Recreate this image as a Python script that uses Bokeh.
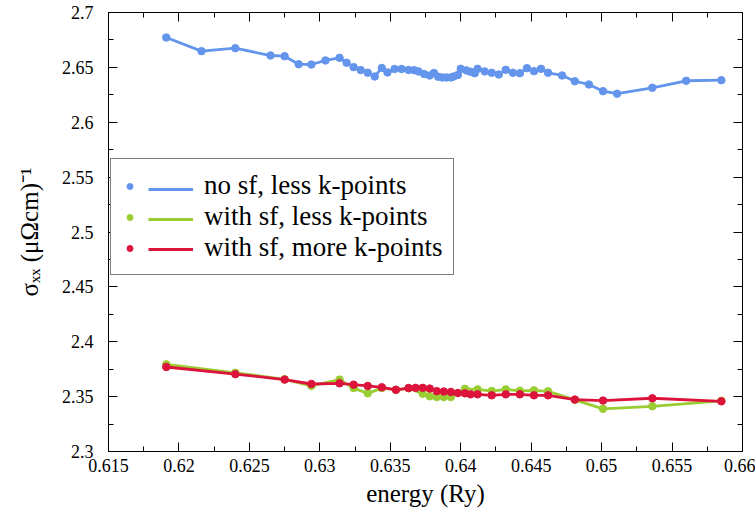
from bokeh.plotting import figure
from bokeh.models import (Range1d, FixedTicker, LinearAxis, Legend, LegendItem)
from bokeh.embed import file_html
from bokeh.resources import INLINE
from bokeh.core.properties import value

# ---- data ----
blue_x = [0.6191, 0.6216, 0.6240, 0.6265, 0.6275, 0.6285, 0.6294, 0.6304, 0.6314, 0.6319,
          0.6324, 0.6329, 0.6334, 0.6339, 0.6344, 0.6348, 0.6353, 0.6358, 0.6363, 0.6367,
          0.6370, 0.6374, 0.6378, 0.6381, 0.6384, 0.6387, 0.6390, 0.6393, 0.6395, 0.6398,
          0.6400, 0.6404, 0.6407, 0.6410, 0.6412, 0.6417, 0.6422, 0.6427, 0.6432, 0.6437,
          0.6442, 0.6447, 0.6452, 0.6457, 0.6462, 0.6472, 0.6481, 0.6491, 0.6501, 0.6511,
          0.6536, 0.6560, 0.6585]
blue_y = [2.6772, 2.6648, 2.6675, 2.6608, 2.6602, 2.6529, 2.6526, 2.6563, 2.6587, 2.6542,
          2.6502, 2.6475, 2.6451, 2.6417, 2.6495, 2.6454, 2.6485, 2.6485, 2.6476, 2.6474,
          2.6463, 2.6440, 2.6426, 2.6449, 2.6415, 2.6408, 2.6408, 2.6408, 2.6417, 2.6431,
          2.6487, 2.6472, 2.6460, 2.6447, 2.6487, 2.6463, 2.6451, 2.6435, 2.6478, 2.6451,
          2.6447, 2.6493, 2.6465, 2.6487, 2.6451, 2.6426, 2.6374, 2.6344, 2.6283, 2.6260,
          2.6314, 2.6378, 2.6383]

green_x = [0.6191, 0.6240, 0.6275, 0.6294, 0.6314, 0.6324, 0.6334, 0.6344, 0.6354, 0.6363,
           0.6373, 0.6378, 0.6383, 0.6388, 0.6393, 0.6403, 0.6412, 0.6422, 0.6432, 0.6442,
           0.6452, 0.6462, 0.6481, 0.6501, 0.6536, 0.6585]
green_y = [2.3794, 2.3717, 2.3658, 2.3598, 2.3655, 2.3578, 2.3530, 2.3578, 2.3562, 2.3576,
           2.3527, 2.3503, 2.3496, 2.3496, 2.3496, 2.3571, 2.3566, 2.3551, 2.3566, 2.3553,
           2.3557, 2.3548, 2.3471, 2.3389, 2.3412, 2.3462]

red_x = [0.6191, 0.6240, 0.6275, 0.6294, 0.6314, 0.6324, 0.6334, 0.6344, 0.6354, 0.6363,
         0.6368, 0.6373, 0.6378, 0.6383, 0.6388, 0.6393, 0.6398, 0.6403, 0.6407, 0.6412,
         0.6422, 0.6432, 0.6442, 0.6452, 0.6462, 0.6481, 0.6501, 0.6536, 0.6585]
red_y = [2.3770, 2.3705, 2.3655, 2.3615, 2.3621, 2.3609, 2.3597, 2.3585, 2.3562, 2.3578,
         2.3580, 2.3580, 2.3573, 2.3550, 2.3546, 2.3542, 2.3533, 2.3530, 2.3521, 2.3521,
         2.3512, 2.3521, 2.3521, 2.3512, 2.3512, 2.3473, 2.3464, 2.3485, 2.3457]

series_labels = ["no sf, less k-points", "with sf, less k-points", "with sf, more k-points"]
series_colors = ["#6495ED", "#9ACD32", "#DC143C"]

x_ticks = [0.615, 0.62, 0.625, 0.63, 0.635, 0.64, 0.645, 0.65, 0.655, 0.66]
x_tick_labels = ["0.615", "0.62", "0.625", "0.63", "0.635", "0.64", "0.645", "0.65", "0.655", "0.66"]
x_minor = [0.6175, 0.6225, 0.6275, 0.6325, 0.6375, 0.6425, 0.6475, 0.6525, 0.6575]
y_ticks = [2.3, 2.35, 2.4, 2.45, 2.5, 2.55, 2.6, 2.65, 2.7]
y_tick_labels = ["2.3", "2.35", "2.4", "2.45", "2.5", "2.55", "2.6", "2.65", "2.7"]
y_minor = [2.325, 2.375, 2.425, 2.475, 2.525, 2.575, 2.625, 2.675]

FONT = "Liberation Serif"

p = figure(width=755, height=525, output_backend="svg", toolbar_location=None,
           x_range=Range1d(0.615, 0.66), y_range=Range1d(2.3, 2.7),
           min_border_left=108, min_border_right=13, min_border_top=12, min_border_bottom=74)
p.grid.visible = False
p.outline_line_color = "black"
p.outline_line_width = 1
p.background_fill_color = "white"
p.border_fill_color = "white"

xt = FixedTicker(ticks=x_ticks, minor_ticks=x_minor)
yt = FixedTicker(ticks=y_ticks, minor_ticks=y_minor)

def style_axis(ax):
    ax.axis_line_color = "black"
    ax.major_tick_line_color = "black"
    ax.minor_tick_line_color = "black"
    ax.major_tick_in = 9
    ax.major_tick_out = 0
    ax.minor_tick_in = 5
    ax.minor_tick_out = 0
    ax.major_label_text_font = FONT
    ax.major_label_text_font_size = "18px"
    ax.major_label_text_color = "black"
    ax.axis_label_text_font = FONT
    ax.axis_label_text_font_style = "normal"
    ax.axis_label_text_font_size = "25px"
    ax.axis_label_text_color = "black"

xa = p.xaxis[0]
xa.ticker = xt
xa.major_label_overrides = dict(zip(x_ticks, x_tick_labels))
style_axis(xa)
xa.major_label_standoff = 7
xa.axis_label = "energy (Ry)"
xa.axis_label_standoff = 5

ya = p.yaxis[0]
ya.ticker = yt
ya.major_label_overrides = dict(zip(y_ticks, y_tick_labels))
style_axis(ya)
ya.major_label_standoff = 15
ya.axis_label = "σₓₓ (μΩcm)⁻¹"
ya.axis_label_standoff = 16

top = LinearAxis(ticker=xt, major_label_overrides={t: "" for t in x_ticks})
style_axis(top)
top.major_label_standoff = 0
p.add_layout(top, "above")
right = LinearAxis(ticker=yt, major_label_overrides={t: "" for t in y_ticks})
style_axis(right)
right.major_label_standoff = 0
p.add_layout(right, "right")

lines = []
dots = []
for xs, ys, c in [(blue_x, blue_y, series_colors[0]),
                  (green_x, green_y, series_colors[1]),
                  (red_x, red_y, series_colors[2])]:
    ln = p.line(xs, ys, line_color=c, line_width=2.8)
    dt = p.scatter(xs, ys, size=7.5, fill_color=c, line_color=c)
    lines.append(ln)
    dots.append(dt)

leg1 = Legend(items=[LegendItem(label=value(lab), renderers=[d]) for lab, d in zip(series_labels, dots)],
              location=(2, 176), padding=11, spacing=0, glyph_width=15, glyph_height=30,
              label_height=30, label_standoff=67, margin=0,
              label_text_font=FONT, label_text_font_size="27px", label_text_color="black",
              border_line_color="black", border_line_width=1,
              background_fill_color="white", background_fill_alpha=1.0)
leg2 = Legend(items=[LegendItem(label=value(""), renderers=[l]) for l in lines],
              location=(29, 176), padding=11, spacing=0, glyph_width=45, glyph_height=30,
              label_height=30, label_standoff=0, margin=0,
              label_text_font=FONT, label_text_font_size="27px",
              border_line_alpha=0, background_fill_alpha=0)
p.add_layout(leg1, "center")
p.add_layout(leg2, "center")

open("out.html", "w").write(file_html(p, INLINE))
